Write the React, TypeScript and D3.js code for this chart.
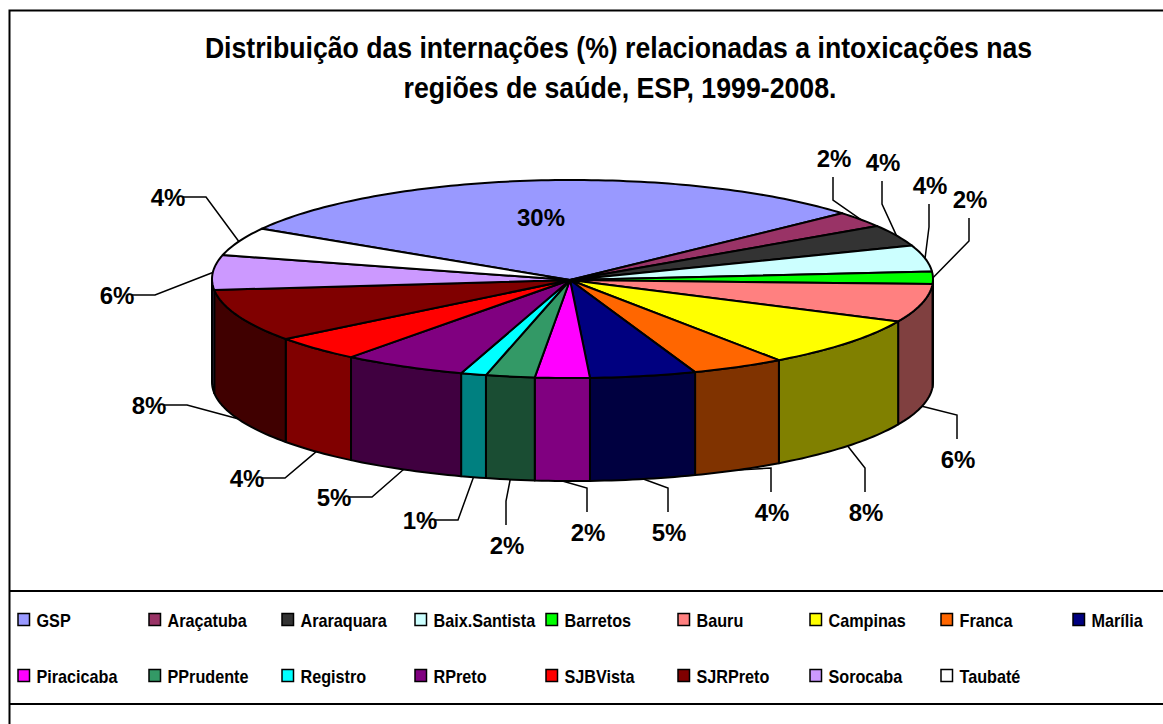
import React from 'react';
import * as d3 from 'd3';

// values (slice shares), percentLabels are what the chart prints
const regions = ['GSP', 'Araçatuba', 'Araraquara', 'Baix.Santista', 'Barretos', 'Bauru', 'Campinas', 'Franca', 'Marília', 'Piracicaba', 'PPrudente', 'Registro', 'RPreto', 'SJBVista', 'SJRPreto', 'Sorocaba', 'Taubaté'];
const shares = [29.97, 2.58, 3.5, 4.25, 2.03, 6.25, 8.24, 4.18, 4.75, 2.44, 2.19, 1.14, 5.53, 4.11, 8.58, 5.67, 4.58];
const percentLabels = ['30%', '2%', '4%', '4%', '2%', '6%', '8%', '4%', '5%', '2%', '2%', '1%', '5%', '4%', '8%', '6%', '4%'];
const topColors = ['#9999FF', '#993366', '#333333', '#CCFFFF', '#00FF00', '#FF8080', '#FFFF00', '#FF6600', '#000080', '#FF00FF', '#339966', '#00FFFF', '#800080', '#FF0000', '#800000', '#CC99FF', '#FFFFFF'];

// where the labels were dragged to: text centre and the side the leader leaves from
const labelPlaces: [number, number, string][] = [
  [541, 217, 'none'], [834, 158, 'down'], [883, 162, 'down'], [930, 185, 'down'], [970, 199, 'down'],
  [958, 459, 'up'], [866, 512, 'up'], [772, 512, 'up'], [669, 532, 'up'], [588, 532, 'up'],
  [507, 545, 'up'], [420, 520, 'right'], [334, 497, 'right'], [247, 478, 'right'], [149, 405, 'right'],
  [117, 295, 'right'], [168, 197, 'right'],
];

const width = 1163;
const height = 724;
const FONT = '"Liberation Sans", Arial, sans-serif';

const cx = 572.5;
const cy = 279;
const rx = 360.5;
const ry = 99;
const depth = 103;
const apex: [number, number] = [570, 280];
// GSP starts at about 300 degrees clockwise from the top
const START = (-59.5 * Math.PI) / 180;

// angle 0 is the top of the ellipse, going clockwise like d3.pie
const rim = (a: number, drop = 0): [number, number] => [cx + rx * Math.sin(a), cy - ry * Math.cos(a) + drop];

const sampleArc = (a0: number, a1: number, drop = 0) => {
  const n = Math.max(2, Math.ceil((a1 - a0) / 0.02));
  return d3.range(n + 1).map(i => rim(a0 + ((a1 - a0) * i) / n, drop));
};

const halfTone = (color: string) => {
  const c = d3.rgb(color);
  return d3.rgb(c.r / 2, c.g / 2, c.b / 2).formatHex();
};

const line = d3.line();

const App = () => {
  const arcs = d3
    .pie<number>()
    .sort(null)
    .startAngle(START)
    .endAngle(START + 2 * Math.PI)(shares);

  // only the part of each slice between 90 and 270 degrees shows a wall
  const walls = arcs
    .map(d => ({
      index: d.index,
      a0: Math.max(d.startAngle, Math.PI / 2),
      a1: Math.min(d.endAngle, (3 * Math.PI) / 2),
    }))
    .filter(w => w.a1 > w.a0);

  const legendColumns = [18, 149, 282, 415, 546, 678, 810, 941, 1073];

  return (
    <svg
      width={width}
      height={height}
      style={{ position: 'absolute', left: 0, top: 0, display: 'block' }}
      fontFamily={FONT}
    >
      <rect width={width} height={height} fill="#fff" />
      <path d={`M${width},10.5H9.5V${height}`} fill="none" stroke="#000" strokeWidth={2} />
      <path d={`M9,591H${width}M9,704H${width}`} fill="none" stroke="#000" strokeWidth={2} />

      <g fontSize={29.5} fontWeight={700} textAnchor="middle">
        <text transform="translate(618.5,58) scale(0.903,1)">Distribuição das internações (%) relacionadas a intoxicações nas</text>
        <text transform="translate(620,98) scale(0.906,1)">regiões de saúde, ESP, 1999-2008.</text>
      </g>

      <g stroke="#000" strokeWidth={2} strokeLinejoin="round">
        {walls.map(w => (
          <path
            key={w.index}
            d={line([...sampleArc(w.a0, w.a1), ...sampleArc(w.a0, w.a1, depth).reverse()])! + 'Z'}
            fill={halfTone(topColors[w.index])}
          />
        ))}
        {arcs.map(d => (
          <path
            key={d.index}
            d={line([apex, ...sampleArc(d.startAngle, d.endAngle)])! + 'Z'}
            fill={topColors[d.index]}
          />
        ))}
      </g>

      <g fill="none" stroke="#000" strokeWidth={1.5} strokeLinejoin="miter">
        {arcs.map(d => {
          const [tx, ty, side] = labelPlaces[d.index];
          if (side === 'none') return null;
          const mid = (d.startAngle + d.endAngle) / 2;
          const anchor = rim(mid, Math.cos(mid) < 0 ? depth : 0);
          let pts: [number, number][];
          if (side === 'down') pts = [[tx - 1, ty + 19], [tx - 1, ty + 42], anchor];
          else if (side === 'up') pts = [[tx - 1, ty - 20], [tx - 1, ty - 44], anchor];
          else pts = [[tx + 15, ty], [tx + 38, ty], anchor];
          return <path key={d.index} d={line(pts)!} />;
        })}
      </g>

      <g fontSize={24} fontWeight={700} textAnchor="middle">
        {percentLabels.map((t, i) => (
          <text key={i} x={labelPlaces[i][0]} y={labelPlaces[i][1] + 8.5}>{t}</text>
        ))}
      </g>

      <g fontSize={18} fontWeight={700}>
        {regions.map((name, i) => {
          const col = i < 9 ? i : i - 9;
          const y = i < 9 ? 620 : 676;
          const x = legendColumns[col];
          return (
            <g key={name}>
              <rect x={x} y={y - 6.5} width={11.5} height={12} fill={topColors[i]} stroke="#000" strokeWidth={1.5} />
              <text transform={`translate(${x + 18.5},${y + 7}) scale(0.9,1)`}>{name}</text>
            </g>
          );
        })}
      </g>
    </svg>
  );
};

export default App;
